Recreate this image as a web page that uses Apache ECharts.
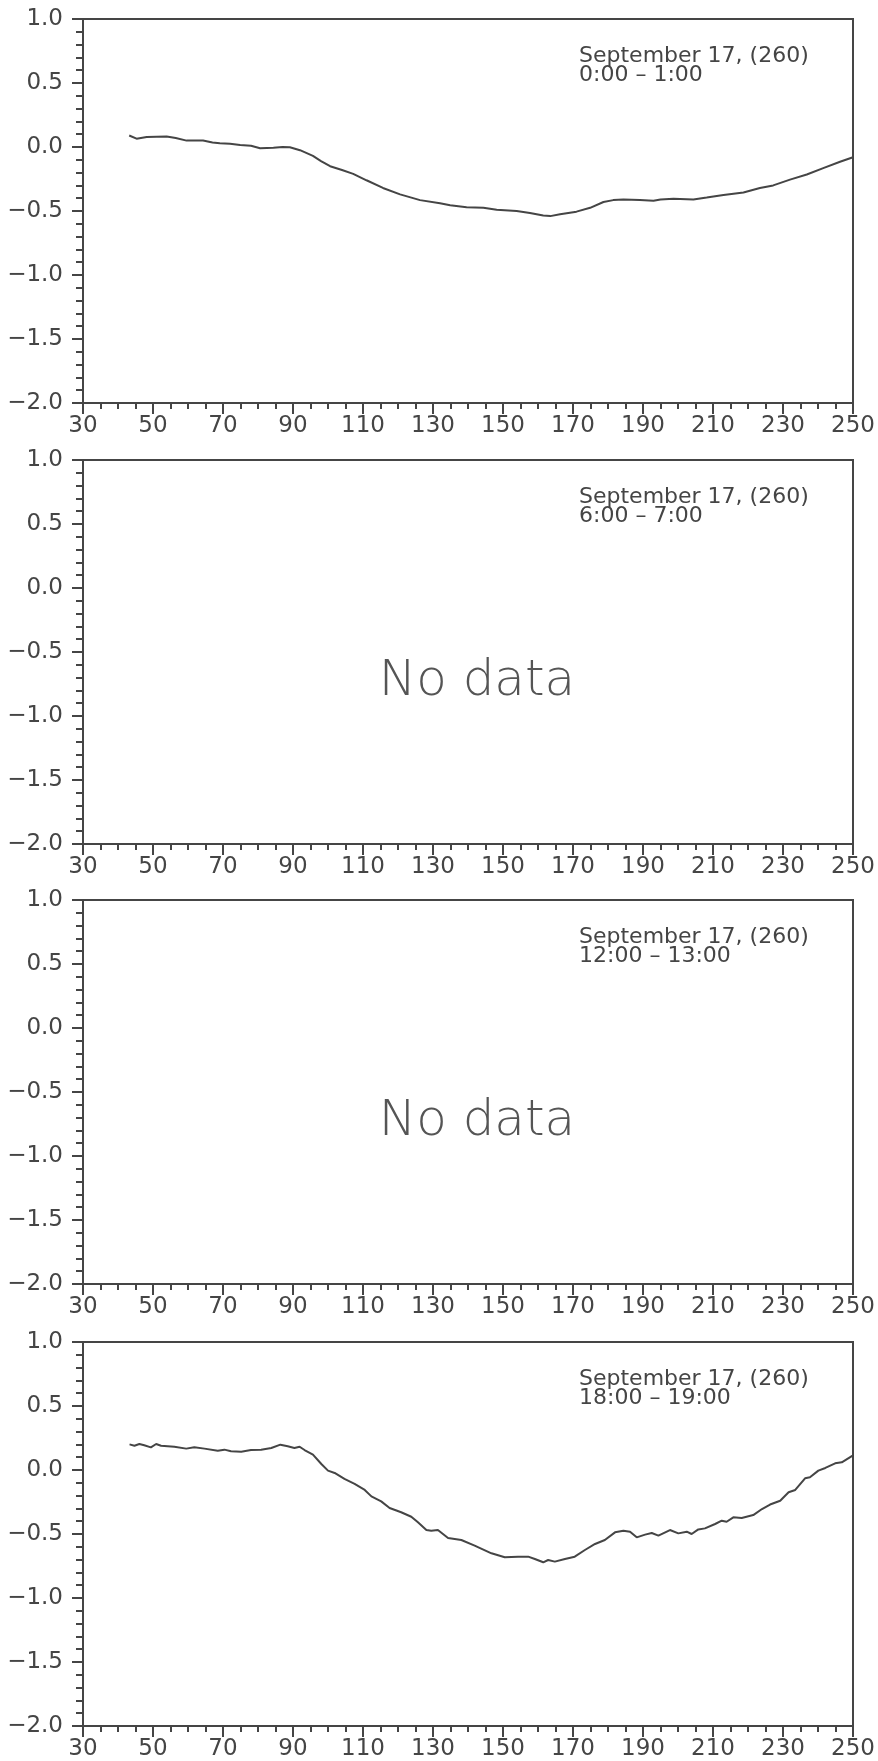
<!DOCTYPE html>
<html>
<head>
<meta charset="utf-8">
<script src="https://cdn.jsdelivr.net/npm/echarts@6/dist/echarts.min.js"></script>
<style>
  html, body { margin: 0; padding: 0; background: #fff; }
  #chart { width: 878px; height: 1761px; }
</style>
</head>
<body>
<div id="chart"></div>
<script>
// Hourly profiles for September 17 (day 260)
const dateLabel = 'September 17, (260)';
const hourLabels = ['0:00 – 1:00', '6:00 – 7:00', '12:00 – 13:00', '18:00 – 19:00'];
const noDataText = 'No data';

// x range and ticks
const xMin = 30, xMax = 250, xStep = 20;
const yMin = -2, yMax = 1, yStep = 0.5;

// 0:00 - 1:00 profile
const hour0X = [43.2, 45.3, 48.2, 51, 53.9, 56.5, 59.6, 64.3, 67, 69.1, 72, 74.9, 78, 80.6, 84.4, 87, 89.1,
  92, 95.7, 98, 100.6, 104, 107.2, 111, 115.7, 120.6, 126.3, 132, 134.9, 139.6, 144.4, 148.2, 153.9, 157.7,
  161.5, 163.5, 166.3, 171, 174.9, 178.7, 181.5, 184.4, 189.1, 193, 195, 198.7, 204.4, 208.2, 213, 218.7,
  223.4, 227.2, 232, 236.8, 241.5, 246.3, 250];
const hour0Y = [0.09, 0.065, 0.078, 0.08, 0.082, 0.07, 0.05, 0.05, 0.035, 0.03, 0.025, 0.015, 0.01, -0.01, -0.005,
  0.0, -0.002, -0.025, -0.07, -0.11, -0.15, -0.18, -0.21, -0.26, -0.32, -0.37, -0.415, -0.44, -0.455, -0.47,
  -0.475, -0.49, -0.5, -0.515, -0.535, -0.54, -0.525, -0.505, -0.475, -0.43, -0.415, -0.41, -0.415, -0.42,
  -0.41, -0.405, -0.41, -0.395, -0.375, -0.355, -0.32, -0.3, -0.255, -0.215, -0.165, -0.115, -0.08];

// 18:00 - 19:00 profile
const hour18X = [43.3, 44.7, 46.1, 47.5, 49.4, 50.9, 52.3, 56.1, 59.5, 61.8, 64.7, 68.5, 70.4, 72.3, 75.2, 78,
  80.9, 83.8, 86.4, 88.5, 90.4, 91.9, 93.3, 95.7, 98.1, 100, 101.9, 104.7, 107.6, 110.5, 112.4, 115.2, 117.6,
  120.9, 123.8, 125.7, 128.1, 129.5, 131.4, 134.3, 138.1, 141.9, 146.7, 150.5, 154.3, 157.2, 159.1, 161.5,
  162.9, 164.8, 167.7, 170.5, 173.4, 176.3, 179.1, 182, 184.4, 186.3, 188.2, 190.6, 192.5, 194.4, 197.7,
  200.1, 202.5, 203.9, 205.8, 207.7, 210.6, 212.5, 213.9, 215.8, 218.2, 221.5, 224, 226.3, 229.2, 231.6,
  233.5, 236.3, 237.7, 240.1, 242.1, 244.9, 246.8, 250];
const hour18Y = [0.2, 0.19, 0.203, 0.193, 0.177, 0.203, 0.19, 0.182, 0.167, 0.177, 0.167, 0.151, 0.159, 0.146,
  0.143, 0.156, 0.159, 0.172, 0.198, 0.185, 0.172, 0.182, 0.156, 0.12, 0.047, -0.005, -0.023, -0.07, -0.109,
  -0.156, -0.206, -0.245, -0.297, -0.33, -0.365, -0.409, -0.469, -0.474, -0.469, -0.531, -0.547, -0.591,
  -0.651, -0.682, -0.677, -0.677, -0.695, -0.721, -0.703, -0.716, -0.695, -0.677, -0.625, -0.578, -0.547,
  -0.487, -0.474, -0.482, -0.526, -0.505, -0.492, -0.513, -0.469, -0.495, -0.482, -0.5, -0.464, -0.456,
  -0.422, -0.396, -0.404, -0.37, -0.375, -0.352, -0.305, -0.27, -0.24, -0.174, -0.156, -0.065, -0.057,
  -0.005, 0.016, 0.052, 0.06, 0.115];

// one entry per panel: null means the hour has no data
const panelSeries = [[hour0X, hour0Y], null, null, [hour18X, hour18Y]];

const ink = '#454545';
const font = 'DejaVu Sans, Liberation Sans, sans-serif';
const panelTops = [19, 460, 900, 1342];
const panelHeight = 384;
const gridLeft = 83, gridRight = 25;

const grids = [], xAxes = [], yAxes = [], series = [], titles = [], graphics = [];

function yLabel(v) {
  const s = Math.abs(v).toFixed(1);
  return (v < -1e-9 ? '\u2212' : '') + s;
}

panelTops.forEach((top, i) => {
  grids.push({
    left: gridLeft, right: gridRight, top: top, height: panelHeight,
    show: true, borderColor: ink, borderWidth: 2, backgroundColor: 'transparent'
  });
  xAxes.push({
    type: 'value', gridIndex: i, min: xMin, max: xMax, interval: xStep,
    axisLine: { show: true, onZero: false, lineStyle: { color: ink, width: 2 } },
    axisTick: { show: true, inside: false, length: 11, lineStyle: { color: ink, width: 2 } },
    minorTick: { show: true, splitNumber: 4, length: 6, lineStyle: { color: ink, width: 2 } },
    axisLabel: { color: ink, fontSize: 23, fontFamily: font, margin: 12, showMinLabel: true, showMaxLabel: true },
    splitLine: { show: false }
  });
  yAxes.push({
    type: 'value', gridIndex: i, min: yMin, max: yMax, interval: yStep,
    axisLine: { show: true, onZero: false, lineStyle: { color: ink, width: 2 } },
    axisTick: { show: true, inside: false, length: 11, lineStyle: { color: ink, width: 2 } },
    minorTick: { show: true, splitNumber: 5, length: 7, lineStyle: { color: ink, width: 2 } },
    axisLabel: { color: ink, fontSize: 23, fontFamily: font, margin: 20, formatter: yLabel },
    splitLine: { show: false }
  });
  titles.push({
    text: dateLabel + '\n' + hourLabels[i],
    left: 579, top: top + 28, padding: 0,
    textStyle: { color: ink, fontSize: 22, fontWeight: 'normal', fontFamily: font, lineHeight: 19 }
  });
  const pair = panelSeries[i];
  if (pair) {
    series.push({
      type: 'line', xAxisIndex: i, yAxisIndex: i,
      data: pair[0].map((x, k) => [x, pair[1][k]]),
      showSymbol: false, smooth: false, silent: true,
      lineStyle: { color: ink, width: 2 }
    });
  } else {
    graphics.push({
      type: 'text', x: 477, y: top + 222, silent: true,
      style: {
        text: noDataText, fill: '#555', fontSize: 50, fontWeight: 200, fontFamily: font,
        align: 'center', verticalAlign: 'middle'
      }
    });
  }
});

const chart = echarts.init(document.getElementById('chart'), null, { renderer: 'canvas' });
chart.setOption({
  animation: false,
  backgroundColor: '#fff',
  title: titles,
  grid: grids,
  xAxis: xAxes,
  yAxis: yAxes,
  series: series,
  graphic: graphics
});
</script>
</body>
</html>
